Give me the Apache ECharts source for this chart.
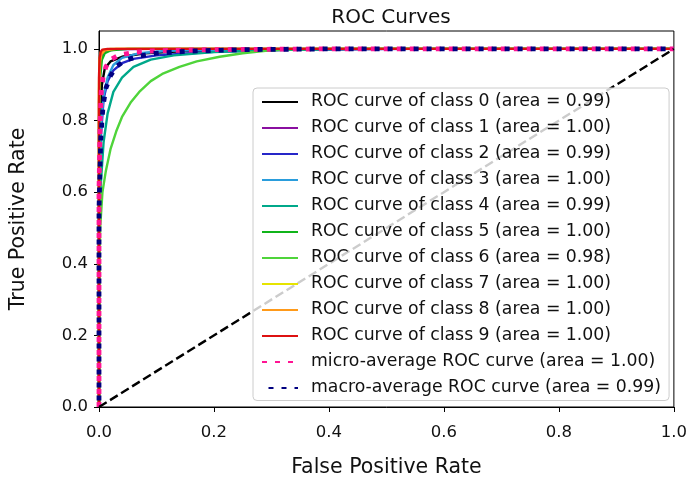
<!DOCTYPE html>
<html>
<head>
<meta charset="utf-8">
<title>ROC Curves</title>
<script src="https://cdn.jsdelivr.net/npm/echarts@6/dist/echarts.min.js"></script>
<style>
  html, body { margin: 0; padding: 0; background: #fff; }
  #chart { width: 690px; height: 489px; }
</style>
</head>
<body>
<div id="chart"></div>
<script>
// Tick positions shared by both axes
const tickValues = [0, 0.2, 0.4, 0.6, 0.8, 1.0];

// Legend labels, one per curve
const curveNames = [
  'ROC curve of class 0 (area = 0.99)',
  'ROC curve of class 1 (area = 1.00)',
  'ROC curve of class 2 (area = 0.99)',
  'ROC curve of class 3 (area = 1.00)',
  'ROC curve of class 4 (area = 0.99)',
  'ROC curve of class 5 (area = 1.00)',
  'ROC curve of class 6 (area = 0.98)',
  'ROC curve of class 7 (area = 1.00)',
  'ROC curve of class 8 (area = 1.00)',
  'ROC curve of class 9 (area = 1.00)',
  'micro-average ROC curve (area = 1.00)',
  'macro-average ROC curve (area = 0.99)'
];

// [false positive rate, true positive rate] points per curve
const class0 = [[0,0],[0,0.62],[0.002,0.80],[0.005,0.90],[0.01,0.945],[0.02,0.965],[0.04,0.978],[0.08,0.988],[0.15,0.994],[0.3,0.998],[0.5,1],[1,1]];
const class1 = [[0,0],[0,0.85],[0.002,0.95],[0.005,0.985],[0.01,0.994],[0.03,0.999],[0.1,1],[1,1]];
const class2 = [[0,0],[0,0.55],[0.003,0.75],[0.008,0.86],[0.015,0.91],[0.025,0.94],[0.04,0.96],[0.06,0.972],[0.1,0.982],[0.2,0.992],[0.35,0.998],[0.55,1],[1,1]];
const class3 = [[0,0],[0,0.6],[0.003,0.78],[0.008,0.87],[0.015,0.92],[0.025,0.955],[0.04,0.975],[0.07,0.988],[0.12,0.995],[0.25,0.999],[0.4,1],[1,1]];
const class4 = [[0,0],[0,0.45],[0.003,0.62],[0.008,0.74],[0.015,0.82],[0.025,0.88],[0.04,0.92],[0.06,0.95],[0.09,0.97],[0.13,0.982],[0.2,0.991],[0.3,0.997],[0.45,1],[1,1]];
const class5 = [[0,0],[0,0.8],[0.002,0.92],[0.005,0.97],[0.01,0.988],[0.02,0.996],[0.05,1],[1,1]];
const class6 = [[0,0],[0,0.3],[0.002,0.5],[0.006,0.6],[0.012,0.66],[0.02,0.72],[0.03,0.77],[0.04,0.81],[0.055,0.85],[0.07,0.88],[0.09,0.91],[0.11,0.93],[0.14,0.95],[0.17,0.965],[0.21,0.978],[0.25,0.988],[0.29,0.995],[0.33,0.999],[0.4,1],[1,1]];
const class7 = [[0,0],[0,0.9],[0.001,0.97],[0.003,0.99],[0.008,0.997],[0.02,1],[1,1]];
const class8 = [[0,0],[0,0.88],[0.002,0.965],[0.004,0.985],[0.01,0.996],[0.03,1],[1,1]];
const class9 = [[0,0],[0,0.92],[0.001,0.975],[0.003,0.992],[0.006,0.998],[0.015,1],[1,1]];
const microAvg = [[0,0],[0,0.6],[0.002,0.8],[0.004,0.88],[0.007,0.92],[0.012,0.95],[0.02,0.97],[0.035,0.983],[0.06,0.99],[0.1,0.995],[0.2,0.998],[0.4,1],[1,1]];
const macroAvg = [[0,0],[0,0.55],[0.003,0.75],[0.007,0.84],[0.012,0.89],[0.02,0.925],[0.03,0.95],[0.045,0.968],[0.07,0.98],[0.1,0.988],[0.16,0.994],[0.25,0.998],[0.4,1],[1,1]];
const chanceLine = [[0,0],[1,1]];

const classCurves = [class0, class1, class2, class3, class4, class5, class6, class7, class8, class9];
const classColors = ['#000000', '#8a0fa0', '#2626c8', '#2a9ddc', '#00a88a', '#10b41a', '#4fd43a', '#e6e400', '#ff9a1a', '#dd1111'];

const FONT = 'DejaVu Sans';
const DOT = [5, 8];

const series = classCurves.map((pts, i) => ({
  name: curveNames[i],
  type: 'line',
  data: pts,
  symbol: 'none',
  lineStyle: { color: classColors[i], width: 2.4 },
  itemStyle: { color: classColors[i] },
  z: 2
}));

series.push({
  name: curveNames[10],
  type: 'line',
  data: microAvg,
  symbol: 'none',
  lineStyle: { color: '#ff1493', width: 4.8, type: DOT, cap: 'butt' },
  itemStyle: { color: '#ff1493' },
  z: 3
});
series.push({
  name: curveNames[11],
  type: 'line',
  data: macroAvg,
  symbol: 'none',
  lineStyle: { color: '#000080', width: 4.8, type: DOT, dashOffset: 6.5, cap: 'butt' },
  itemStyle: { color: '#000080' },
  z: 3
});
series.push({
  name: 'chance',
  type: 'line',
  data: chanceLine,
  symbol: 'none',
  lineStyle: { color: '#000', width: 2.4, type: [9, 4], cap: 'butt' },
  z: 3
});

const fmt = v => v.toFixed(1);

const chart = echarts.init(document.getElementById('chart'), null, { renderer: 'canvas' });
chart.setOption({
  animation: false,
  backgroundColor: '#fff',
  title: {
    text: 'ROC Curves',
    left: 386, top: 3,
    textAlign: 'center',
    textStyle: { fontFamily: FONT, fontSize: 20, fontWeight: 'normal', color: '#111' }
  },
  grid: {
    left: 97, right: 14, top: 31, bottom: 82,
    show: true, borderColor: '#000', borderWidth: 1, backgroundColor: 'transparent'
  },
  legend: {
    data: curveNames,
    orient: 'vertical',
    left: 253, top: 88,
    itemWidth: 36, itemHeight: 14, itemGap: 9,
    padding: [5.5, 8, 4, 8],
    backgroundColor: 'rgba(255,255,255,0.8)',
    borderColor: '#cccccc', borderWidth: 1, borderRadius: 4,
    itemStyle: { opacity: 0 },
    textStyle: { fontFamily: FONT, fontSize: 17.3, color: '#111', padding: [0, 0, 0, 8] },
    selectedMode: false
  },
  xAxis: {
    type: 'value', min: 0, max: 1,
    name: 'False Positive Rate', nameLocation: 'middle', nameGap: 50,
    nameTextStyle: { fontFamily: FONT, fontSize: 20.5, color: '#111' },
    axisLine: { show: true, onZero: false, lineStyle: { color: '#000', width: 1 } },
    axisTick: { show: true, length: 5, inside: false, customValues: tickValues, lineStyle: { color: '#000' } },
    axisLabel: { customValues: tickValues, formatter: fmt, fontFamily: FONT, fontSize: 16.5, color: '#111', margin: 17 },
    splitLine: { show: false }
  },
  yAxis: {
    type: 'value', min: 0, max: 1.05,
    name: 'True Positive Rate', nameLocation: 'middle', nameGap: 70,
    nameTextStyle: { fontFamily: FONT, fontSize: 20.5, color: '#111' },
    axisLine: { show: true, onZero: false, lineStyle: { color: '#000', width: 1 } },
    axisTick: { show: true, length: 5, inside: false, customValues: tickValues, lineStyle: { color: '#000' } },
    axisLabel: { customValues: tickValues, formatter: fmt, fontFamily: FONT, fontSize: 16.5, color: '#111', margin: 11 },
    splitLine: { show: false }
  },
  series: series
});
</script>
</body>
</html>
